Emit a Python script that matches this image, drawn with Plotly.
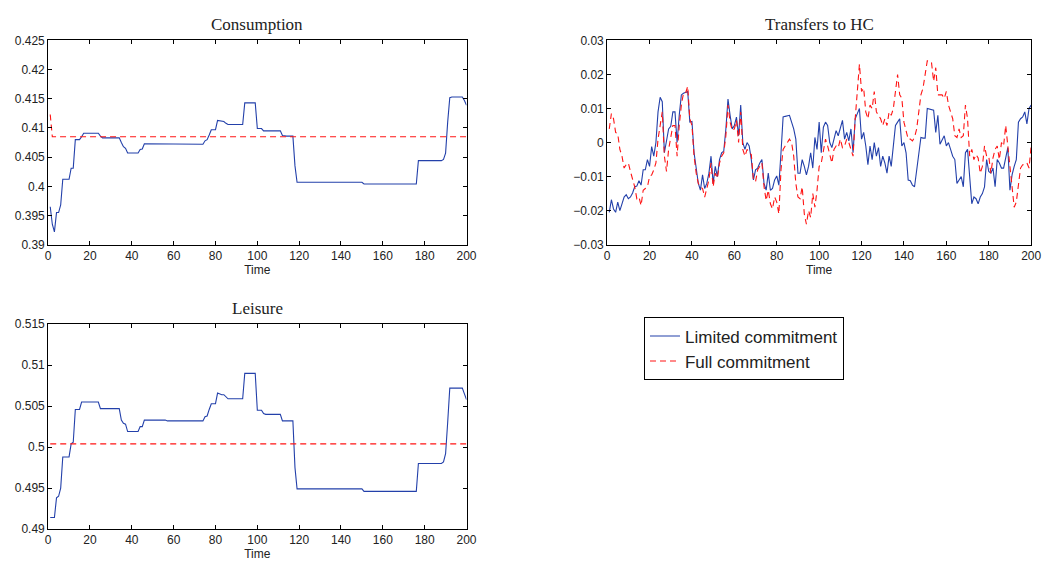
import plotly.graph_objects as go

time = list(range(1, 201))

cons_limited = (
    [0.3965, 0.3935, 0.3922, 0.3955, 0.3955, 0.3968, 0.4012, 0.4012, 0.4012, 0.4012] +
    [0.4031, 0.4031, 0.4080, 0.4080, 0.4080, 0.4085, 0.4091, 0.4091, 0.4091, 0.4091] +
    [0.4091, 0.4091, 0.4091, 0.4091, 0.4086, 0.4083, 0.4083, 0.4083, 0.4083, 0.4083] +
    [0.4083, 0.4083, 0.4083, 0.4083, 0.4075, 0.4068, 0.4065, 0.4057, 0.4057, 0.4057] +
    [0.4057, 0.4057, 0.4057, 0.4063, 0.4064, 0.4073, 0.4073, 0.4073, 0.4073, 0.4073] +
    [0.4073, 0.4073, 0.4073, 0.4073, 0.4073, 0.4073, 0.4072, 0.4072, 0.4072, 0.4072] +
    [0.4072, 0.4072, 0.4072, 0.4072, 0.4072, 0.4072, 0.4072, 0.4072, 0.4072, 0.4072] +
    [0.4072, 0.4072, 0.4072, 0.4072, 0.4078, 0.4080, 0.4088, 0.4097, 0.4097, 0.4097] +
    [0.4113, 0.4112, 0.4111, 0.4111, 0.4108, 0.4106, 0.4106, 0.4106, 0.4106, 0.4106] +
    [0.4106, 0.4106, 0.4106, 0.4143, 0.4143, 0.4143, 0.4143, 0.4143, 0.4143, 0.4099] +
    [0.4099, 0.4099, 0.4095, 0.4095, 0.4095, 0.4095, 0.4095, 0.4095, 0.4095, 0.4095] +
    [0.4095, 0.4087, 0.4086, 0.4086, 0.4086, 0.4086, 0.4086, 0.4035, 0.4007, 0.4007] +
    [0.4007, 0.4007, 0.4007, 0.4007, 0.4007, 0.4007, 0.4007, 0.4007, 0.4007, 0.4007] +
    [0.4007, 0.4007, 0.4007, 0.4007, 0.4007, 0.4007, 0.4007, 0.4007, 0.4007, 0.4007] +
    [0.4007, 0.4007, 0.4007, 0.4007, 0.4007, 0.4007, 0.4007, 0.4007, 0.4007, 0.4007] +
    [0.4004, 0.4004, 0.4004, 0.4004, 0.4004, 0.4004, 0.4004, 0.4004, 0.4004, 0.4004] +
    [0.4004, 0.4004, 0.4004, 0.4004, 0.4004, 0.4004, 0.4004, 0.4004, 0.4004, 0.4004] +
    [0.4004, 0.4004, 0.4004, 0.4004, 0.4004, 0.4004, 0.4044, 0.4044, 0.4044, 0.4044] +
    [0.4044, 0.4044, 0.4044, 0.4044, 0.4044, 0.4044, 0.4044, 0.4044, 0.4046, 0.4057] +
    [0.4110, 0.4152, 0.4153, 0.4153, 0.4153, 0.4153, 0.4153, 0.4153, 0.4147, 0.4139]
)
cons_full = [0.4123] + [0.4085] * 199

leis_limited = (
    [0.4914, 0.4914, 0.4914, 0.4938, 0.4940, 0.4950, 0.4988, 0.4988, 0.4988, 0.4988] +
    [0.5004, 0.5006, 0.5046, 0.5046, 0.5046, 0.5055, 0.5055, 0.5055, 0.5055, 0.5055] +
    [0.5055, 0.5055, 0.5055, 0.5055, 0.5047, 0.5047, 0.5047, 0.5047, 0.5047, 0.5047] +
    [0.5047, 0.5047, 0.5047, 0.5047, 0.5033, 0.5029, 0.5028, 0.5019, 0.5019, 0.5019] +
    [0.5019, 0.5019, 0.5019, 0.5025, 0.5025, 0.5033, 0.5033, 0.5033, 0.5033, 0.5033] +
    [0.5033, 0.5033, 0.5033, 0.5033, 0.5033, 0.5033, 0.5032, 0.5032, 0.5032, 0.5032] +
    [0.5032, 0.5032, 0.5032, 0.5032, 0.5032, 0.5032, 0.5032, 0.5032, 0.5032, 0.5032] +
    [0.5032, 0.5032, 0.5032, 0.5032, 0.5037, 0.5038, 0.5046, 0.5053, 0.5053, 0.5053] +
    [0.5066, 0.5065, 0.5064, 0.5064, 0.5061, 0.5059, 0.5059, 0.5059, 0.5059, 0.5059] +
    [0.5059, 0.5059, 0.5059, 0.5090, 0.5090, 0.5090, 0.5090, 0.5090, 0.5090, 0.5045] +
    [0.5045, 0.5045, 0.5041, 0.5040, 0.5040, 0.5040, 0.5040, 0.5040, 0.5040, 0.5040] +
    [0.5040, 0.5032, 0.5032, 0.5032, 0.5032, 0.5032, 0.5032, 0.4975, 0.4949, 0.4949] +
    [0.4949, 0.4949, 0.4949, 0.4949, 0.4949, 0.4949, 0.4949, 0.4949, 0.4949, 0.4949] +
    [0.4949, 0.4949, 0.4949, 0.4949, 0.4949, 0.4949, 0.4949, 0.4949, 0.4949, 0.4949] +
    [0.4949, 0.4949, 0.4949, 0.4949, 0.4949, 0.4949, 0.4949, 0.4949, 0.4949, 0.4949] +
    [0.4946, 0.4946, 0.4946, 0.4946, 0.4946, 0.4946, 0.4946, 0.4946, 0.4946, 0.4946] +
    [0.4946, 0.4946, 0.4946, 0.4946, 0.4946, 0.4946, 0.4946, 0.4946, 0.4946, 0.4946] +
    [0.4946, 0.4946, 0.4946, 0.4946, 0.4946, 0.4946, 0.4980, 0.4980, 0.4980, 0.4980] +
    [0.4980, 0.4980, 0.4980, 0.4980, 0.4980, 0.4980, 0.4980, 0.4980, 0.4982, 0.4992] +
    [0.5030, 0.5072, 0.5072, 0.5072, 0.5072, 0.5072, 0.5072, 0.5072, 0.5065, 0.5058]
)
leis_full = [0.5004] * 200

trans_limited = (
    [-0.0205, -0.0168, -0.0195, -0.0205, -0.0175, -0.0200, -0.0180, -0.0160, -0.0153, -0.0165] +
    [-0.0160, -0.0148, -0.0130, -0.0128, -0.0112, -0.0125, -0.0080, -0.0080, -0.0050, -0.0070] +
    [-0.0012, -0.0040, 0.0000, 0.0090, 0.0133, 0.0120, -0.0030, 0.0010, 0.0040, 0.0048] +
    [0.0090, 0.0090, 0.0000, 0.0080, 0.0140, 0.0145, 0.0148, 0.0150, 0.0060, 0.0062] +
    [-0.0030, -0.0080, -0.0120, -0.0140, -0.0095, -0.0135, -0.0120, -0.0090, -0.0040, -0.0120] +
    [-0.0070, -0.0100, -0.0050, -0.0030, -0.0025, 0.0040, 0.0128, 0.0080, 0.0040, 0.0050] +
    [0.0075, 0.0020, 0.0110, 0.0000, -0.0020, 0.0000, -0.0010, -0.0050, -0.0110, -0.0080] +
    [-0.0075, -0.0060, -0.0050, -0.0120, -0.0140, -0.0090, -0.0140, -0.0135, -0.0110, -0.0098] +
    [-0.0125, -0.0030, 0.0075, 0.0077, 0.0078, 0.0080, 0.0060, 0.0040, 0.0010, -0.0090] +
    [-0.0090, -0.0050, -0.0070, -0.0095, -0.0070, -0.0030, -0.0075, 0.0015, -0.0020, 0.0060] +
    [-0.0030, 0.0045, 0.0060, 0.0050, 0.0000, -0.0015, 0.0010, 0.0035, 0.0020, 0.0040] +
    [0.0065, 0.0010, 0.0030, 0.0005, 0.0040, -0.0030, 0.0070, 0.0085, 0.0100, 0.0010] +
    [0.0030, -0.0010, -0.0065, -0.0010, -0.0050, 0.0000, -0.0040, -0.0015, -0.0070, -0.0040] +
    [-0.0060, -0.0090, -0.0040, -0.0070, 0.0000, 0.0050, 0.0060, 0.0070, -0.0010, 0.0000] +
    [-0.0030, -0.0110, -0.0112, -0.0125, -0.0130, -0.0080, -0.0030, 0.0015, 0.0013, 0.0013] +
    [0.0100, 0.0098, 0.0097, 0.0095, 0.0030, 0.0080, -0.0005, 0.0010, 0.0020, -0.0010] +
    [0.0000, -0.0020, -0.0040, -0.0050, -0.0120, -0.0110, -0.0100, -0.0130, -0.0030, -0.0020] +
    [-0.0100, -0.0180, -0.0160, -0.0165, -0.0180, -0.0160, -0.0150, -0.0130, -0.0050, -0.0085] +
    [-0.0090, -0.0075, -0.0130, -0.0050, -0.0060, -0.0075, -0.0075, -0.0045, -0.0015, -0.0140] +
    [-0.0095, -0.0070, -0.0050, 0.0060, 0.0070, 0.0075, 0.0090, 0.0055, 0.0100, 0.0110]
)

trans_full = (
    [0.0040, 0.0085, 0.0070, 0.0030, 0.0025, -0.0020, -0.0040, -0.0075, -0.0065, -0.0060] +
    [-0.0085, -0.0110, -0.0130, -0.0165, -0.0160, -0.0185, -0.0140, -0.0135, -0.0130, -0.0100] +
    [-0.0095, -0.0080, -0.0060, 0.0010, 0.0050, 0.0090, -0.0040, -0.0085, -0.0020, 0.0020] +
    [0.0050, 0.0050, -0.0040, 0.0050, 0.0110, 0.0145, 0.0145, 0.0165, 0.0070, 0.0050] +
    [-0.0040, -0.0090, -0.0120, -0.0130, -0.0135, -0.0160, -0.0130, -0.0110, -0.0060, -0.0130] +
    [-0.0090, -0.0105, -0.0060, -0.0040, -0.0030, 0.0020, 0.0110, 0.0060, 0.0035, 0.0040] +
    [0.0065, 0.0000, 0.0090, -0.0020, -0.0040, -0.0020, -0.0030, -0.0035, -0.0110, -0.0115] +
    [-0.0080, -0.0070, -0.0060, -0.0130, -0.0170, -0.0140, -0.0180, -0.0195, -0.0160, -0.0175] +
    [-0.0210, -0.0080, -0.0020, -0.0010, 0.0000, 0.0010, 0.0000, -0.0040, -0.0120, -0.0160] +
    [-0.0165, -0.0130, -0.0210, -0.0240, -0.0200, -0.0220, -0.0150, -0.0190, -0.0140, -0.0070] +
    [-0.0060, -0.0020, 0.0010, -0.0010, -0.0040, -0.0060, -0.0020, -0.0010, -0.0015, 0.0010] +
    [-0.0015, -0.0010, 0.0010, 0.0000, -0.0020, -0.0040, 0.0070, 0.0150, 0.0230, 0.0150] +
    [0.0160, 0.0090, 0.0070, 0.0110, 0.0100, 0.0150, 0.0090, 0.0080, 0.0070, 0.0050] +
    [0.0070, 0.0050, 0.0090, 0.0080, 0.0100, 0.0150, 0.0200, 0.0140, 0.0130, 0.0060] +
    [0.0030, 0.0010, 0.0010, 0.0005, 0.0015, 0.0040, 0.0090, 0.0140, 0.0160, 0.0200] +
    [0.0240, 0.0240, 0.0235, 0.0180, 0.0220, 0.0140, 0.0140, 0.0140, 0.0130, 0.0150] +
    [0.0110, 0.0090, 0.0070, 0.0020, 0.0015, 0.0040, 0.0015, 0.0020, 0.0110, 0.0070] +
    [-0.0040, -0.0020, -0.0050, -0.0035, -0.0045, -0.0090, -0.0070, -0.0010, -0.0040, -0.0040] +
    [-0.0090, -0.0045, -0.0020, -0.0010, -0.0050, 0.0000, -0.0010, 0.0050, -0.0010, -0.0080] +
    [-0.0130, -0.0190, -0.0175, -0.0120, -0.0075, -0.0065, -0.0065, -0.0060, -0.0075, -0.0010]
)

x_ticks = [0, 20, 40, 60, 80, 100, 120, 140, 160, 180, 200]
cons_ticks = [0.39, 0.395, 0.4, 0.405, 0.41, 0.415, 0.42, 0.425]
cons_labels = ["0.39", "0.395", "0.4", "0.405", "0.41", "0.415", "0.42", "0.425"]
trans_ticks = [-0.03, -0.02, -0.01, 0, 0.01, 0.02, 0.03]
trans_labels = ["\u22120.03", "\u22120.02", "\u22120.01", "0", "0.01", "0.02", "0.03"]
leis_ticks = [0.49, 0.495, 0.5, 0.505, 0.51, 0.515]
leis_labels = ["0.49", "0.495", "0.5", "0.505", "0.51", "0.515"]

BLUE = "rgb(35,64,170)"
RED = "rgb(255,20,20)"
TXT = "#222"
SANS = "Liberation Sans, Arial, sans-serif"
SERIF = "Liberation Serif, Times New Roman, serif"
W, H = 1053, 565

fig = go.Figure()

panels = [
    ("x", "y", cons_limited, cons_full),
    ("x2", "y2", trans_limited, trans_full),
    ("x3", "y3", leis_limited, leis_full),
]
for i, (xa, ya, lim, full) in enumerate(panels):
    fig.add_trace(go.Scatter(x=time, y=lim, mode="lines", xaxis=xa, yaxis=ya,
                             line=dict(color=BLUE, width=1.1),
                             name="Limited commitment", showlegend=(i == 0)))
    fig.add_trace(go.Scatter(x=time, y=full, mode="lines", xaxis=xa, yaxis=ya,
                             line=dict(color=RED, width=1.1, dash="6px,4px"),
                             name="Full commitment", showlegend=(i == 0)))

def px_x(a, b):
    return [a / W, b / W]

def px_y(top, bottom):
    return [1 - bottom / H, 1 - top / H]

axis_common = dict(showline=True, linecolor="black", linewidth=1, mirror="allticks",
                   ticks="inside", ticklen=4, tickcolor="black", showgrid=False,
                   zeroline=False, tickfont=dict(family=SANS, size=12, color=TXT))
xcommon = dict(axis_common, range=[0, 200], tickvals=x_ticks,
               title=dict(text="Time", font=dict(family=SANS, size=12, color=TXT), standoff=0))

fig.update_layout(
    width=W, height=H, margin=dict(l=0, r=0, t=0, b=0),
    paper_bgcolor="white", plot_bgcolor="white",
    xaxis=dict(xcommon, domain=px_x(45.7, 469.3), anchor="y"),
    yaxis=dict(axis_common, domain=px_y(34.3, 243.7), range=[0.39, 0.425],
               tickvals=cons_ticks, ticktext=cons_labels, anchor="x"),
    xaxis2=dict(xcommon, domain=px_x(611.7, 1041), anchor="y2"),
    yaxis2=dict(axis_common, domain=px_y(34.3, 243.7), range=[-0.03, 0.03],
                tickvals=trans_ticks, ticktext=trans_labels, anchor="x2"),
    xaxis3=dict(xcommon, domain=px_x(45.7, 469.3), anchor="y3"),
    yaxis3=dict(axis_common, domain=px_y(325.3, 535.3), range=[0.49, 0.515],
                tickvals=leis_ticks, ticktext=leis_labels, anchor="x3"),
    legend=dict(x=649 / W, y=1 - 318.3 / H, xanchor="left", yanchor="top",
                bordercolor="black", borderwidth=1, bgcolor="white",
                font=dict(family=SANS, size=17, color=TXT),
                tracegroupgap=0, itemwidth=30),
    showlegend=True,
)

titles = [("Consumption", 257.5, 18.3), ("Transfers to HC", 826.3, 18.3), ("Leisure", 257.5, 309.5)]
for text, cx, cy in titles:
    fig.add_annotation(text=text, x=cx / W, y=1 - cy / H, xref="paper", yref="paper",
                       showarrow=False, xanchor="center", yanchor="middle",
                       font=dict(family=SERIF, size=17, color=TXT))

fig.write_html("out.html")
